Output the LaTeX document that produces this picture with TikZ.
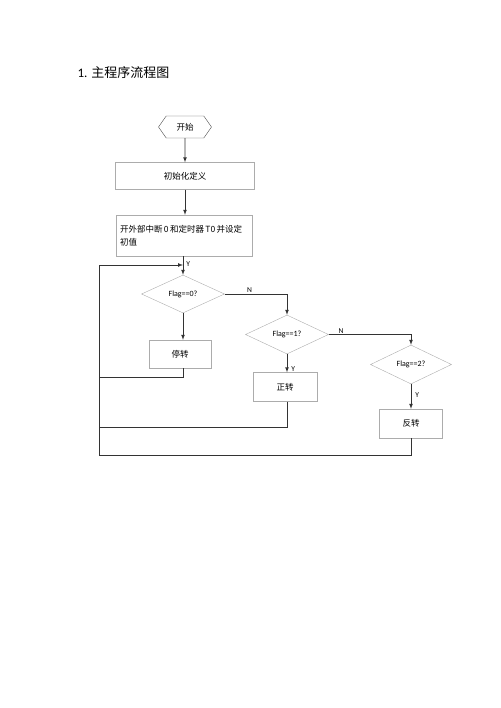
\documentclass[tikz,border=0pt]{standalone}
\usepackage{fontspec}
\setmainfont{Carlito}
\newfontfamily\cjk{Noto Sans CJK SC}
\usetikzlibrary{shapes.geometric, shapes.symbols}

\begin{document}
\begin{tikzpicture}[x=1pt, y=-1pt, >=latex, font=\fontsize{8}{10}\selectfont]
        \tikzstyle{module}=[draw=gray!65, rectangle, inner sep=2pt, align=center, font=\cjk\fontsize{8.5}{10}\selectfont];
        \tikzstyle{decide}=[draw=gray!65, diamond, inner sep=0pt];
        \tikzstyle{link}=[draw=black!80, line width=0.7pt];
        \tikzstyle{tag}=[font=\fontsize{7.5}{9}\selectfont, inner sep=1pt];

        \useasboundingbox (0,0) rectangle (500,708);

        \node[anchor=west, font=\fontsize{13}{15}\selectfont] (title) at (74,73) {1. {\cjk 主程序流程图}};

        \node[draw=black!70, signal, signal to=west and east, signal pointer angle=110, minimum width=53, minimum height=22, font=\cjk\fontsize{8.5}{10}\selectfont] (start) at (185,127) {开始};
        \node[module, minimum width=139, minimum height=27] (init) at (185,176) {初始化定义};
        \node[module, minimum width=136, minimum height=41, text width=128, align=left] (setup) at (184,235.5) {{\cjk 开外部中断}\,0\,{\cjk 和定时器}\,T0\,{\cjk 并设定}\\[3pt]{\cjk 初值}};

        \node[decide, minimum width=83, minimum height=38] (flag0) at (183,294) {Flag==0?};
        \node[module, minimum width=62, minimum height=28] (stop) at (180,354) {停转};

        \node[decide, minimum width=83, minimum height=39] (flag1) at (287,334.5) {Flag==1?};
        \node[module, minimum width=64, minimum height=29] (fwd) at (285,387) {正转};

        \node[decide, minimum width=81, minimum height=39] (flag2) at (411,364.5) {Flag==2?};
        \node[module, minimum width=63, minimum height=29] (rev) at (411,423.5) {反转};

        % loop back points
        \coordinate (join) at (183,265);
        \coordinate (left) at (99,455);

        \draw[->, link] (start) -- (init);
        \draw[->, link] (init) -- (init |- setup.north);
        \draw[->, link] (setup.south -| flag0) -- node[tag, right, xshift=2pt, pos=0.4] {Y} (flag0.north);
        \draw[->, link] (flag0) -- (stop.north -| flag0);
        \draw[->, link] (flag0.east) -- node[tag, above, pos=0.4] {N} (flag0.east -| flag1) -- (flag1.north);
        \draw[->, link] (flag1) -- node[tag, right, xshift=3pt, pos=0.8] {Y} (fwd.north -| flag1);
        \draw[->, link] (flag1.east) -- node[tag, above, pos=0.15] {N} (flag1.east -| flag2) -- (flag2.north);
        \draw[->, link] (flag2) -- node[tag, right, xshift=3pt, pos=0.45] {Y} (rev);

        \draw[link] (stop.south -| flag0) -- ++(0,9) -| (left);
        \draw[link] (fwd.south -| flag1) -- ++(0,26) -| (left);
        \draw[->, link] (rev.south) |- (left) |- (join);
    \end{tikzpicture}
\end{document}
